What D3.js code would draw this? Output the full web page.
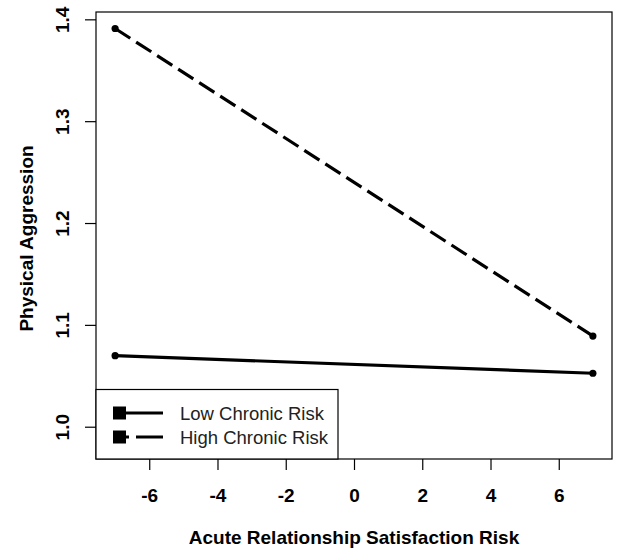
<!DOCTYPE html>
<html>
<head>
<meta charset="utf-8">
<script src="https://cdn.jsdelivr.net/npm/d3@7"></script>
<style>
  html, body { margin: 0; padding: 0; background: #fff; }
  svg { display: block; font-family: "Liberation Sans", Arial, sans-serif; }
</style>
</head>
<body>
<svg id="chart" width="621" height="559"></svg>
<script>
// ---- data ----
const xValues = [-7, 7];
const lowChronic = [1.0698, 1.0525];
const highChronic = [1.391, 1.089];
const seriesNames = ["Low Chronic Risk", "High Chronic Risk"];
const xTicks = [-6, -4, -2, 0, 2, 4, 6];
const yTicks = [1.0, 1.1, 1.2, 1.3, 1.4];
const xTitle = "Acute Relationship Satisfaction Risk";
const yTitle = "Physical Aggression";

const series = [
  { name: seriesNames[0], values: lowChronic, dash: null },
  { name: seriesNames[1], values: highChronic, dash: "18,7" }
];

const svg = d3.select("#chart");
const box = { left: 96, right: 612, top: 12, bottom: 459 };

const x = d3.scaleLinear().domain([-7.56, 7.56]).range([box.left, box.right]);
const y = d3.scaleLinear().domain([0.9683, 1.4072]).range([box.bottom, box.top]);

// plot box
svg.append("rect")
  .attr("x", box.left).attr("y", box.top)
  .attr("width", box.right - box.left).attr("height", box.bottom - box.top)
  .attr("fill", "none").attr("stroke", "#000").attr("stroke-width", 1.2);

// x axis
const xAxis = svg.append("g")
  .attr("transform", `translate(0,${box.bottom})`)
  .call(d3.axisBottom(x).tickValues(xTicks).tickSize(11).tickSizeOuter(0).tickPadding(0)
    .tickFormat(d3.format("d")));
xAxis.select(".domain").remove();
xAxis.selectAll(".tick line").attr("stroke", "#000").attr("stroke-width", 1.2);
xAxis.selectAll(".tick text")
  .attr("y", 43).attr("dy", null)
  .attr("font-size", 19).attr("font-weight", "bold").attr("fill", "#000")
  .attr("font-family", "Liberation Sans, Arial, sans-serif")
  .text(d => d < 0 ? "-" + Math.abs(d) : String(d));

// y axis
const yAxis = svg.append("g")
  .attr("transform", `translate(${box.left},0)`)
  .call(d3.axisLeft(y).tickValues(yTicks).tickSize(11).tickSizeOuter(0).tickFormat(d3.format(".1f")));
yAxis.select(".domain").remove();
yAxis.selectAll(".tick line").attr("stroke", "#000").attr("stroke-width", 1.2);
yAxis.selectAll(".tick text")
  .attr("x", null).attr("dy", null)
  .attr("text-anchor", "middle")
  .attr("transform", "translate(-27,0) rotate(-90)")
  .attr("font-size", 19).attr("font-weight", "bold").attr("fill", "#000")
  .attr("font-family", "Liberation Sans, Arial, sans-serif");

// axis titles
svg.append("text")
  .attr("x", (box.left + box.right) / 2).attr("y", 544)
  .attr("text-anchor", "middle")
  .attr("font-size", 19).attr("font-weight", "bold")
  .text(xTitle);

svg.append("text")
  .attr("transform", `translate(33,${(box.top + box.bottom) / 2 + 3}) rotate(-90)`)
  .attr("text-anchor", "middle")
  .attr("font-size", 19).attr("font-weight", "bold")
  .text(yTitle);

// lines
const line = d3.line().x(d => x(d[0])).y(d => y(d[1]));
series.forEach(s => {
  const pts = xValues.map((xv, i) => [xv, s.values[i]]);
  svg.append("path")
    .datum(pts)
    .attr("d", line)
    .attr("fill", "none").attr("stroke", "#000").attr("stroke-width", 3.2)
    .attr("stroke-dasharray", s.dash);
  svg.selectAll(null).data(pts).enter().append("circle")
    .attr("cx", d => x(d[0])).attr("cy", d => y(d[1])).attr("r", 3.6)
    .attr("fill", "#000");
});

// legend
const lg = svg.append("g");
lg.append("rect")
  .attr("x", box.left).attr("y", 389.5)
  .attr("width", 338 - box.left).attr("height", box.bottom - 389.5)
  .attr("fill", "#fff").attr("stroke", "#000").attr("stroke-width", 1.2);
series.forEach((s, i) => {
  const cy = 413 + i * 24;
  lg.append("line")
    .attr("x1", 113).attr("x2", 163).attr("y1", cy).attr("y2", cy)
    .attr("stroke", "#000").attr("stroke-width", 3.2)
    .attr("stroke-dasharray", s.dash ? "16,7,30" : null);
  lg.append("rect")
    .attr("x", 113).attr("y", cy - 6.5).attr("width", 13).attr("height", 13)
    .attr("fill", "#000");
  lg.append("text")
    .attr("x", 180).attr("y", cy + 6.5)
    .attr("font-size", 18.5).attr("fill", "#222")
    .text(s.name);
});
</script>
</body>
</html>
